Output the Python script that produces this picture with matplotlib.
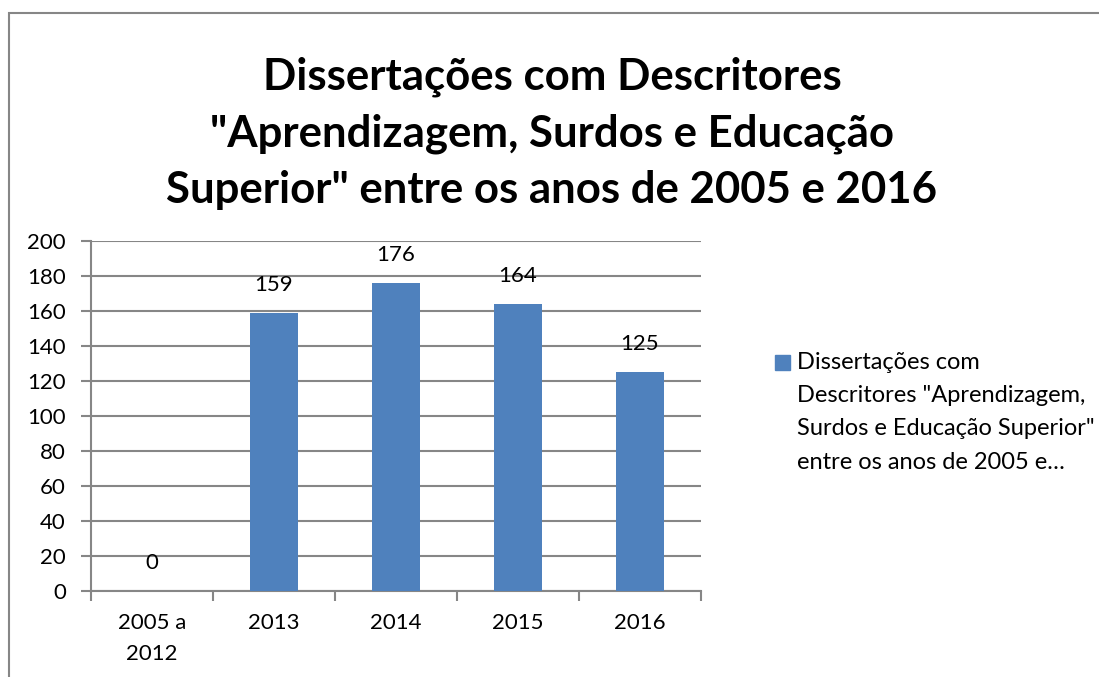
import matplotlib
matplotlib.use("Agg")
import matplotlib.pyplot as plt
from matplotlib.patches import Rectangle

plt.rcParams['font.family'] = ['Lato', 'DejaVu Sans']

categories = ['2005 a\n2012', '2013', '2014', '2015', '2016']
values = [0, 159, 176, 164, 125]
title = ('Dissertações com Descritores\n"Aprendizagem, Surdos e Educação\n'
         'Superior" entre os anos de 2005 e 2016')
legend_text = ('Dissertações com\nDescritores "Aprendizagem,\n'
               'Surdos e Educação Superior"\nentre os anos de 2005 e…')

W, H = 1099, 677
bar_color = '#4F81BD'
grey = '#868686'

fig = plt.figure(figsize=(W / 100, H / 100), dpi=100)

# chart frame (runs off the right and bottom edges)
fig.patches.append(Rectangle((8.5 / W, -0.1), 1.2, 1 - 12.5 / H + 0.1,
                             transform=fig.transFigure, fill=False,
                             edgecolor=grey, linewidth=1.5))

fig.text(552 / W, 1 - 133 / H, title, ha='center', va='center',
         fontsize=31.5, fontweight='bold', linespacing=1.49)

ax = fig.add_axes([91 / W, 1 - 591 / H, 610 / W, 350 / H])
x = range(len(categories))
ax.bar(x, values, width=0.4, color=bar_color, zorder=3)
for xi, v in zip(x, values):
    ax.annotate(str(v), (xi, v), xytext=(0, 20), textcoords='offset points',
                ha='center', va='center', fontsize=16)

ax.set_xlim(-0.5, len(categories) - 0.5)
ax.set_ylim(0, 200)
ax.set_yticks(range(0, 201, 20))
ax.yaxis.grid(True, color=grey, linewidth=1.5, zorder=0)
for s in ['top', 'right']:
    ax.spines[s].set_visible(False)
for s in ['left', 'bottom']:
    ax.spines[s].set_color(grey)
    ax.spines[s].set_linewidth(1.5)

ax.set_xticks([i - 0.5 for i in range(len(categories) + 1)], minor=False)
ax.set_xticklabels([])
ax.set_xticks(list(x), minor=True)
ax.set_xticklabels(categories, minor=True, fontsize=16, linespacing=1.65)
ax.tick_params(axis='x', which='major', length=7, width=1.5, color=grey)
ax.tick_params(axis='x', which='minor', length=0, pad=16)
ax.tick_params(axis='y', length=7, width=1.5, color=grey, labelsize=16, pad=11)

# legend entry
fig.patches.append(Rectangle((775 / W, 1 - 370 / H), 15 / W, 15 / H,
                             transform=fig.transFigure, color=bar_color))
fig.text(797 / W, 1 - 352 / H, legend_text, ha='left', va='top',
         fontsize=17, linespacing=1.72)

fig.savefig('out.png', dpi=100)
